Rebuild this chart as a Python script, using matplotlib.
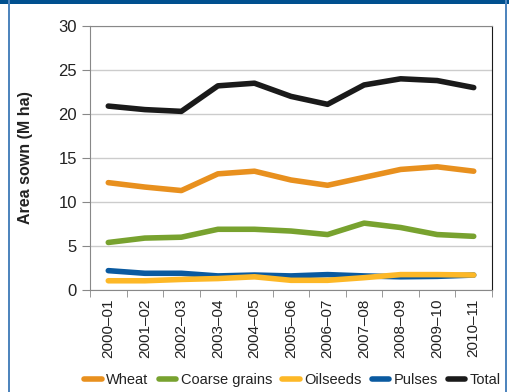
import matplotlib.pyplot as plt
from matplotlib.patches import Rectangle

years = ["2000\u201301", "2001\u201302", "2002\u201303", "2003\u201304", "2004\u201305",
         "2005\u201306", "2006\u201307", "2007\u201308", "2008\u201309", "2009\u201310", "2010\u201311"]
wheat = [12.2, 11.7, 11.3, 13.2, 13.5, 12.5, 11.9, 12.8, 13.7, 14.0, 13.5]
coarse = [5.4, 5.9, 6.0, 6.9, 6.9, 6.7, 6.3, 7.6, 7.1, 6.3, 6.1]
oilseeds = [1.05, 1.05, 1.2, 1.3, 1.5, 1.1, 1.1, 1.4, 1.75, 1.75, 1.7]
pulses = [2.2, 1.9, 1.9, 1.6, 1.7, 1.6, 1.75, 1.6, 1.5, 1.55, 1.7]
total = [20.9, 20.5, 20.3, 23.2, 23.5, 22.0, 21.1, 23.3, 24.0, 23.8, 23.0]

plt.rcParams["font.family"] = ["Liberation Sans", "DejaVu Sans"]

fig = plt.figure(figsize=(5.09, 3.92), dpi=100)
ax = fig.add_axes([90 / 509, 1 - 290 / 392, 402 / 509, 264 / 392])

x = range(len(years))
lw = 4
ax.plot(x, wheat, color="#E8901E", lw=lw, label="Wheat", solid_capstyle="round")
ax.plot(x, coarse, color="#78A22F", lw=lw, label="Coarse grains", solid_capstyle="round")
ax.plot(x, pulses, color="#0A5AA0", lw=lw, label="Pulses", solid_capstyle="round")
ax.plot(x, oilseeds, color="#FDB827", lw=lw, label="Oilseeds", solid_capstyle="round")
ax.plot(x, total, color="#1A1A1A", lw=lw, label="Total", solid_capstyle="round")

ax.set_xlim(-0.5, len(years) - 0.5)
ax.set_ylim(0, 30)
ax.set_yticks(range(0, 31, 5))
ax.set_xticks(x)
ax.set_xticklabels(years, rotation=90, fontsize=11, color="#222222")
ax.set_xticks([i - 0.5 for i in range(len(years) + 1)], minor=True)
ax.tick_params(axis="x", which="major", length=0, pad=6)
ax.tick_params(axis="x", which="minor", length=5, color="#888888")
ax.tick_params(axis="y", labelsize=12, length=6, color="#888888", labelcolor="#222222")
ax.grid(axis="y", color="#CCCCCC", lw=1)
ax.set_axisbelow(True)
for s in ["left", "bottom", "top"]:
    ax.spines[s].set_color("#888888")
ax.spines["right"].set_color("#1A1A1A")
ax.set_ylabel("Area sown (M ha)", fontsize=11.5, fontweight="bold", labelpad=18, color="#222222")

h, l = ax.get_legend_handles_labels()
order = [0, 1, 3, 2, 4]
fig.legend([h[i] for i in order], [l[i] for i in order], loc="center", ncol=5,
           bbox_to_anchor=(0.575, 0.03), frameon=False, fontsize=10.5,
           handlelength=1.2, handletextpad=0.3, columnspacing=0.7,
           labelcolor="#222222")

fig.add_artist(Rectangle((0, 1 - 4 / 392), 1, 4 / 392, transform=fig.transFigure,
                         color="#00508F", lw=0))
fig.add_artist(Rectangle((8 / 509, 0), 2 / 509, 1, transform=fig.transFigure,
                         color="#4F85BD", lw=0))
fig.add_artist(Rectangle((505 / 509, 0), 2 / 509, 1, transform=fig.transFigure,
                         color="#4F85BD", lw=0))

fig.savefig("out.png", dpi=100)
